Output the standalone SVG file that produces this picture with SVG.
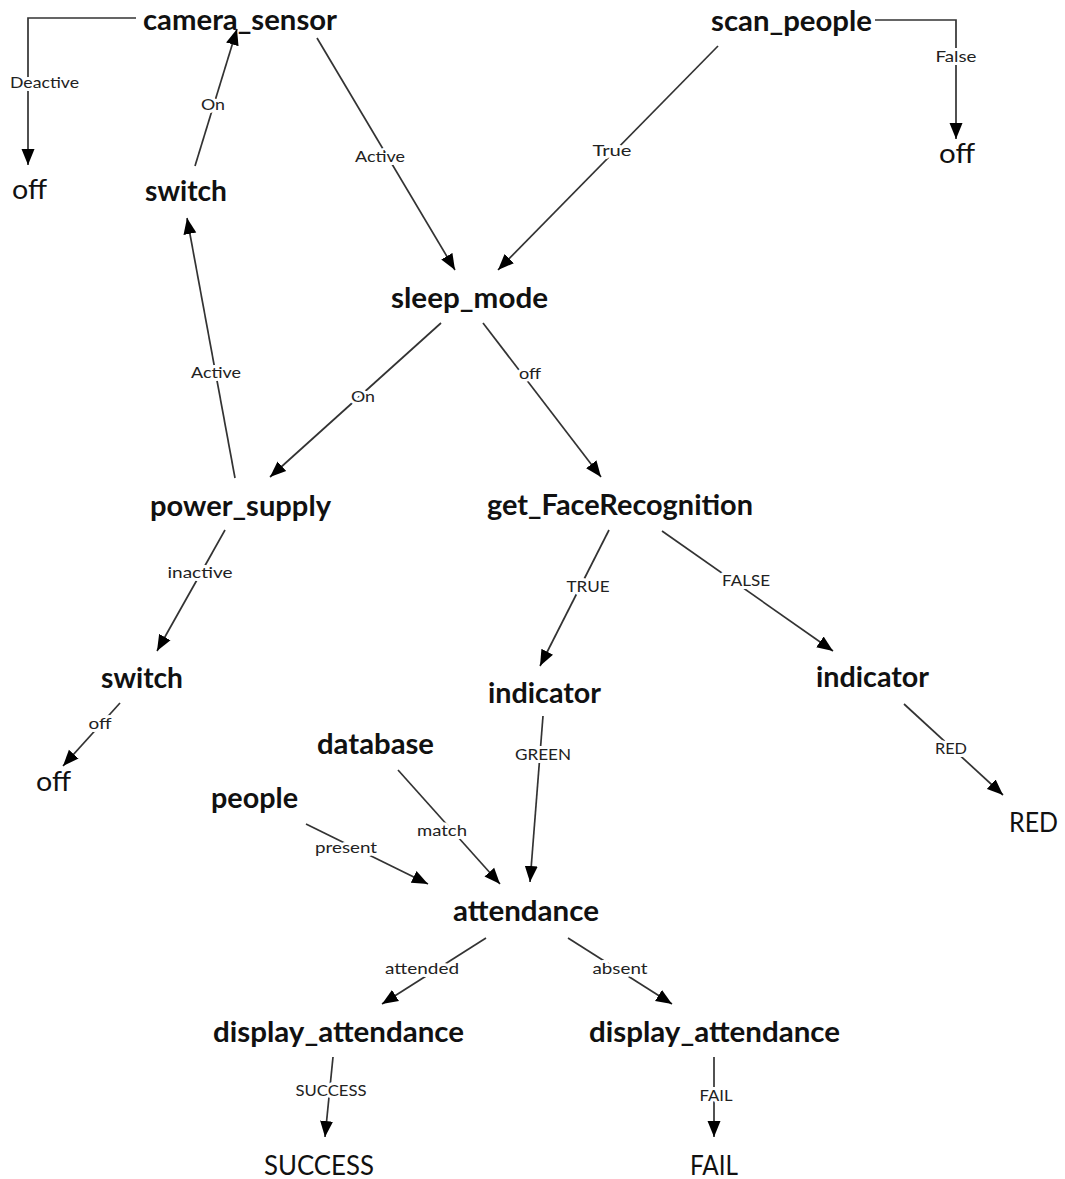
<svg xmlns="http://www.w3.org/2000/svg" width="1065" height="1179" viewBox="0 0 1065 1179">
<style>
.n{font-family:Lato,"Liberation Sans",sans-serif;font-weight:bold;font-size:28px;fill:#111;text-anchor:middle}
.t{font-family:Lato,"Liberation Sans",sans-serif;font-weight:normal;font-size:26px;fill:#111;text-anchor:middle}
.l{font-family:Lato,"Liberation Sans",sans-serif;font-size:16px;fill:#222;text-anchor:middle;stroke:#fff;stroke-width:6px;paint-order:stroke;stroke-linejoin:round}
.e{fill:none;stroke:#333;stroke-width:1.7px;marker-end:url(#ah)}
</style>
<defs>
<marker id="ah" markerUnits="userSpaceOnUse" markerWidth="18" markerHeight="14" refX="16" refY="7" orient="auto"><path d="M0,0.5 L16,7 L0,13.5 z" fill="#000"/></marker>
</defs>
<rect width="1065" height="1179" fill="#fff"/>
<g id="connectors">
<polyline class="e" points="136,18 28,18 28,165"/>
<line class="e" x1="195" y1="166" x2="237" y2="29"/>
<line class="e" x1="317" y1="38" x2="455" y2="270"/>
<line class="e" x1="718" y1="46" x2="498" y2="270"/>
<polyline class="e" points="875,20 956,20 956,139"/>
<line class="e" x1="235" y1="478" x2="187" y2="218"/>
<line class="e" x1="441" y1="323" x2="270" y2="477"/>
<line class="e" x1="483" y1="323" x2="601" y2="477"/>
<line class="e" x1="225" y1="530" x2="157" y2="651"/>
<line class="e" x1="120" y1="703" x2="63" y2="766"/>
<line class="e" x1="609" y1="530" x2="540" y2="666"/>
<line class="e" x1="662" y1="531" x2="833" y2="651"/>
<line class="e" x1="904" y1="704" x2="1003" y2="795"/>
<line class="e" x1="543" y1="716" x2="530" y2="882"/>
<line class="e" x1="398" y1="770" x2="500" y2="884"/>
<line class="e" x1="306" y1="824" x2="428" y2="884"/>
<line class="e" x1="486" y1="938" x2="382" y2="1004"/>
<line class="e" x1="568" y1="938" x2="672" y2="1004"/>
<line class="e" x1="333" y1="1057" x2="325" y2="1137"/>
<line class="e" x1="714" y1="1057" x2="714" y2="1137"/>
<g id="edge-labels">
<text class="l" x="44.5" y="88" textLength="69" lengthAdjust="spacingAndGlyphs">Deactive</text>
<text class="l" x="213" y="110" textLength="24" lengthAdjust="spacingAndGlyphs">On</text>
<text class="l" x="380" y="162" textLength="50" lengthAdjust="spacingAndGlyphs">Active</text>
<text class="l" x="612" y="156" textLength="39" lengthAdjust="spacingAndGlyphs">True</text>
<text class="l" x="956" y="62" textLength="41" lengthAdjust="spacingAndGlyphs">False</text>
<text class="l" x="216" y="378" textLength="50" lengthAdjust="spacingAndGlyphs">Active</text>
<text class="l" x="363" y="402" textLength="24" lengthAdjust="spacingAndGlyphs">On</text>
<text class="l" x="530" y="379" textLength="22" lengthAdjust="spacingAndGlyphs">off</text>
<text class="l" x="200" y="578" textLength="65" lengthAdjust="spacingAndGlyphs">inactive</text>
<text class="l" x="100" y="729" textLength="23" lengthAdjust="spacingAndGlyphs">off</text>
<text class="l" x="588" y="592" textLength="43" lengthAdjust="spacingAndGlyphs">TRUE</text>
<text class="l" x="746" y="586" textLength="48" lengthAdjust="spacingAndGlyphs">FALSE</text>
<text class="l" x="951" y="754" textLength="32" lengthAdjust="spacingAndGlyphs">RED</text>
<text class="l" x="543" y="760" textLength="56" lengthAdjust="spacingAndGlyphs">GREEN</text>
<text class="l" x="442" y="836" textLength="50" lengthAdjust="spacingAndGlyphs">match</text>
<text class="l" x="346" y="853" textLength="62" lengthAdjust="spacingAndGlyphs">present</text>
<text class="l" x="422" y="974" textLength="74" lengthAdjust="spacingAndGlyphs">attended</text>
<text class="l" x="620" y="974" textLength="55" lengthAdjust="spacingAndGlyphs">absent</text>
<text class="l" x="331" y="1096" textLength="71" lengthAdjust="spacingAndGlyphs">SUCCESS</text>
<text class="l" x="716" y="1101" textLength="33" lengthAdjust="spacingAndGlyphs">FAIL</text>
</g>
</g>
<g id="camera_sensor"><text class="n" x="240" y="30" textLength="194" lengthAdjust="spacingAndGlyphs">camera_sensor</text></g>
<g id="scan_people"><text class="n" x="791.5" y="31" textLength="161" lengthAdjust="spacingAndGlyphs">scan_people</text></g>
<g id="off1"><text class="t" x="29.5" y="199" textLength="35" lengthAdjust="spacingAndGlyphs">off</text></g>
<g id="off2"><text class="t" x="957" y="163" textLength="36" lengthAdjust="spacingAndGlyphs">off</text></g>
<g id="switch1"><text class="n" x="186" y="201" textLength="82" lengthAdjust="spacingAndGlyphs">switch</text></g>
<g id="sleep_mode"><text class="n" x="469.5" y="308" textLength="157" lengthAdjust="spacingAndGlyphs">sleep_mode</text></g>
<g id="power_supply"><text class="n" x="240.5" y="516" textLength="181" lengthAdjust="spacingAndGlyphs">power_supply</text></g>
<g id="get_FaceRecognition"><text class="n" x="620" y="515" textLength="266" lengthAdjust="spacingAndGlyphs">get_FaceRecognition</text></g>
<g id="switch2"><text class="n" x="142" y="688" textLength="82" lengthAdjust="spacingAndGlyphs">switch</text></g>
<g id="indicator1"><text class="n" x="544.5" y="703" textLength="113" lengthAdjust="spacingAndGlyphs">indicator</text></g>
<g id="indicator2"><text class="n" x="872.5" y="687" textLength="113" lengthAdjust="spacingAndGlyphs">indicator</text></g>
<g id="off3"><text class="t" x="53.5" y="791" textLength="35" lengthAdjust="spacingAndGlyphs">off</text></g>
<g id="database"><text class="n" x="375.5" y="754" textLength="117" lengthAdjust="spacingAndGlyphs">database</text></g>
<g id="people"><text class="n" x="254.5" y="808" textLength="87" lengthAdjust="spacingAndGlyphs">people</text></g>
<g id="RED"><text class="t" x="1033.5" y="832" textLength="49" lengthAdjust="spacingAndGlyphs">RED</text></g>
<g id="attendance"><text class="n" x="526" y="921" textLength="146" lengthAdjust="spacingAndGlyphs">attendance</text></g>
<g id="display_attendance1"><text class="n" x="338.5" y="1042" textLength="251" lengthAdjust="spacingAndGlyphs">display_attendance</text></g>
<g id="display_attendance2"><text class="n" x="714.5" y="1042" textLength="251" lengthAdjust="spacingAndGlyphs">display_attendance</text></g>
<g id="SUCCESS"><text class="t" x="319" y="1175" textLength="110" lengthAdjust="spacingAndGlyphs">SUCCESS</text></g>
<g id="FAIL"><text class="t" x="714" y="1175" textLength="48" lengthAdjust="spacingAndGlyphs">FAIL</text></g>
</svg>
